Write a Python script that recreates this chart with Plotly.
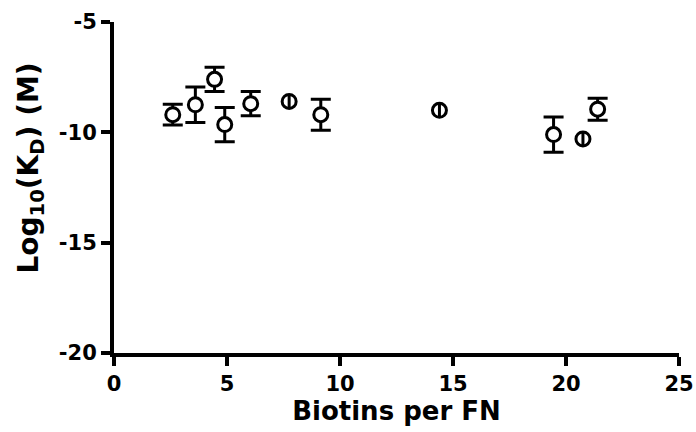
import plotly.graph_objects as go

# Data
biotins = [2.6, 3.6, 4.45, 4.9, 6.05, 7.75, 9.15, 14.4, 19.45, 20.75, 21.4]
log_kd = [-9.2, -8.75, -7.6, -9.65, -8.7, -8.6, -9.2, -9.0, -10.1, -10.3, -8.95]
log_kd_err = [0.47, 0.8, 0.55, 0.78, 0.55, 0.3, 0.7, 0.3, 0.8, 0.3, 0.5]

x_ticks = [0, 5, 10, 15, 20, 25]
y_ticks = [-20, -15, -10, -5]

# points whose error bar is smaller than the marker are drawn through the marker
small = [i for i, e in enumerate(log_kd_err) if e <= 0.3]
big = [i for i, e in enumerate(log_kd_err) if e > 0.3]

def pick(arr, idx):
    return [arr[i] for i in idx]

marker = dict(symbol="circle", size=14, color="white", line=dict(color="black", width=3))

fig = go.Figure()
fig.add_trace(go.Scatter(
    x=pick(biotins, big), y=pick(log_kd, big), mode="markers", marker=marker,
    error_y=dict(type="data", array=pick(log_kd_err, big), color="black", thickness=3, width=10),
    showlegend=False, hoverinfo="x+y"))
fig.add_trace(go.Scatter(
    x=pick(biotins, small), y=pick(log_kd, small), mode="markers", marker=marker,
    showlegend=False, hoverinfo="x+y"))
fig.add_trace(go.Scatter(
    x=pick(biotins, small), y=pick(log_kd, small), mode="markers",
    marker=dict(size=1, color="rgba(0,0,0,0)"),
    error_y=dict(type="data", array=pick(log_kd_err, small), color="black", thickness=3, width=0),
    showlegend=False, hoverinfo="skip"))

font_family = "DejaVu Sans"
fig.update_layout(
    width=696, height=432,
    margin=dict(l=114, r=17, t=22, b=79),
    paper_bgcolor="white", plot_bgcolor="white",
    font=dict(family=font_family, color="black"),
    xaxis=dict(
        range=[0, 25], tickvals=x_ticks, ticktext=[f"<b>{v}</b>" for v in x_ticks],
        showline=True, linecolor="black", linewidth=4, showgrid=False, zeroline=False,
        ticks="outside", ticklen=9, tickwidth=4, tickcolor="black",
        tickfont=dict(family=font_family, size=21, color="black"),
        title=dict(text="<b>Biotins per FN</b>", font=dict(family=font_family, size=26, color="black"), standoff=8),
        automargin=False),
    yaxis=dict(
        range=[-20, -5], tickvals=y_ticks, ticktext=[f"<b>{v}</b>" for v in y_ticks],
        showline=True, linecolor="black", linewidth=4, showgrid=False, zeroline=False,
        ticks="outside", ticklen=9, tickwidth=4, tickcolor="black",
        tickfont=dict(family=font_family, size=21, color="black"),
        automargin=False),
    annotations=[dict(
        text="<b>Log<sub>10</sub>(K<sub>D</sub>) (M)</b>", textangle=-90,
        xref="paper", yref="paper", x=-0.147, y=0.56, xanchor="center", yanchor="middle",
        showarrow=False, font=dict(family=font_family, size=28, color="black"))],
)

# remove the default page margin so the figure fills the window exactly
fig.write_html("out.html", config={"displayModeBar": False},
               post_script="document.body.style.margin='0';document.body.style.overflow='hidden';")
